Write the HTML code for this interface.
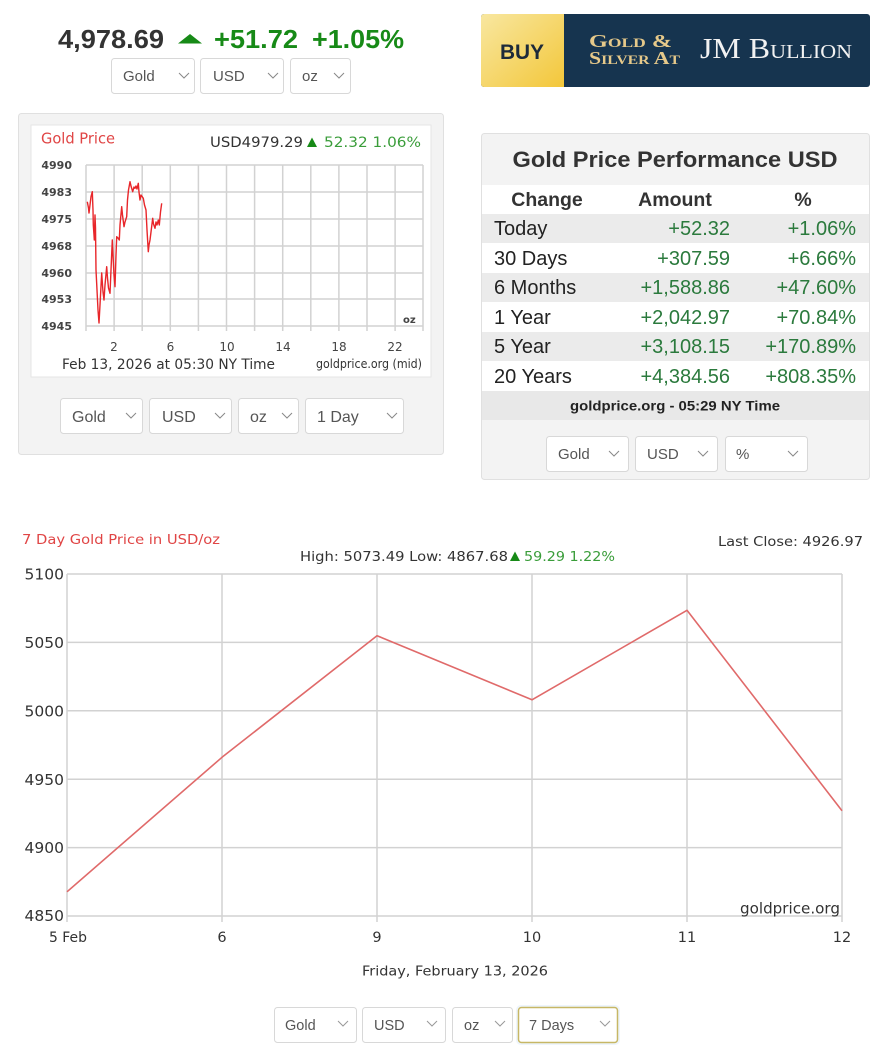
<!DOCTYPE html>
<html><head><meta charset="utf-8"><style>
html,body{margin:0;padding:0;background:#fff;}
svg{display:block;}
.os{font-family:"Liberation Sans","DejaVu Sans",sans-serif;}
.dv{font-family:"DejaVu Sans","Liberation Sans",sans-serif;}
.sf{font-family:"Liberation Serif","DejaVu Serif",serif;}
</style></head><body>
<svg width="896" height="1062" viewBox="0 0 896 1062" xmlns="http://www.w3.org/2000/svg">
<defs>
<linearGradient id="yg" x1="0" y1="0" x2="1" y2="1">
<stop offset="0" stop-color="#f8e7a0"/><stop offset="1" stop-color="#f3c73a"/>
</linearGradient>
</defs>
<rect width="896" height="1062" fill="#fff"/>

<!-- Top price header -->
<text class="os" x="58" y="48" font-size="26" font-weight="bold" fill="#333" textLength="106" lengthAdjust="spacingAndGlyphs">4,978.69</text>
<polygon points="178,43.5 202,43.5 190,34" fill="#178a17"/>
<text class="os" x="214" y="48" font-size="26" font-weight="bold" fill="#178a17" textLength="84" lengthAdjust="spacingAndGlyphs">+51.72</text>
<text class="os" x="312" y="48" font-size="26" font-weight="bold" fill="#178a17" textLength="92" lengthAdjust="spacingAndGlyphs">+1.05%</text>

<!-- dropdowns row 1 -->
<g class="os" font-size="15" fill="#555">
<rect x="111.5" y="58.5" width="83" height="35" rx="3" fill="#fff" stroke="#d8d8d8"/>
<text x="123" y="81">Gold</text>
<polyline points="179,73 184,78 189,73" fill="none" stroke="#888"/>
<rect x="200.5" y="58.5" width="83" height="35" rx="3" fill="#fff" stroke="#d8d8d8"/>
<text x="213" y="81">USD</text>
<polyline points="268,73 273,78 278,73" fill="none" stroke="#888"/>
<rect x="290.5" y="58.5" width="60" height="35" rx="3" fill="#fff" stroke="#d8d8d8"/>
<text x="302" y="81">oz</text>
<polyline points="334,73 339,78 344,73" fill="none" stroke="#888"/>
</g>

<!-- Banner -->
<rect x="481" y="14" width="389" height="73" rx="3" fill="#16344f"/>
<path d="M484,14 H564 V87 H484 A3,3 0 0 1 481,84 V17 A3,3 0 0 1 484,14 Z" fill="url(#yg)"/>
<text class="os" x="500" y="59" font-size="21" font-weight="bold" fill="#1d2a3a" textLength="44" lengthAdjust="spacingAndGlyphs">BUY</text>
<text class="sf" x="589" y="47" font-size="18" font-weight="bold" fill="#e6c98a" style="font-variant:small-caps" textLength="83" lengthAdjust="spacingAndGlyphs">Gold &amp;</text>
<text class="sf" x="589" y="64" font-size="18" font-weight="bold" fill="#e6c98a" style="font-variant:small-caps" textLength="91" lengthAdjust="spacingAndGlyphs">Silver At</text>
<text class="sf" x="700" y="58" font-size="29" fill="#f2f2f2" style="font-variant:small-caps" textLength="152" lengthAdjust="spacingAndGlyphs">JM Bullion</text>

<!-- Left panel -->
<rect x="18.5" y="113.5" width="425" height="341" rx="3" fill="#f3f3f3" stroke="#e0e0e0"/>
<rect x="31" y="125" width="400" height="252" fill="#fff" stroke="#e6e6e6"/>
<text class="dv" x="41" y="143.5" font-size="15" fill="#e04545" textLength="74" lengthAdjust="spacingAndGlyphs">Gold Price</text>
<text class="dv" x="210" y="147" font-size="14" fill="#333" textLength="93" lengthAdjust="spacingAndGlyphs">USD4979.29</text>
<polygon points="307,147 317,147 312,137.5" fill="#178a17"/>
<text class="dv" x="324" y="147" font-size="14" fill="#3a9d3a" textLength="97" lengthAdjust="spacingAndGlyphs">52.32 1.06%</text>

<g stroke="#d2d2d2" stroke-width="1.5" fill="none">
<line x1="86" y1="165" x2="423" y2="165"/>
<line x1="86" y1="192" x2="423" y2="192"/>
<line x1="86" y1="219" x2="423" y2="219"/>
<line x1="86" y1="246" x2="423" y2="246"/>
<line x1="86" y1="273" x2="423" y2="273"/>
<line x1="86" y1="299" x2="423" y2="299"/>
<line x1="86" y1="326" x2="423" y2="326"/>
<line x1="86" y1="165" x2="86" y2="331"/>
<line x1="114.1" y1="165" x2="114.1" y2="331"/>
<line x1="142.2" y1="165" x2="142.2" y2="331"/>
<line x1="170.3" y1="165" x2="170.3" y2="331"/>
<line x1="198.4" y1="165" x2="198.4" y2="331"/>
<line x1="226.5" y1="165" x2="226.5" y2="331"/>
<line x1="254.6" y1="165" x2="254.6" y2="331"/>
<line x1="282.7" y1="165" x2="282.7" y2="331"/>
<line x1="310.8" y1="165" x2="310.8" y2="331"/>
<line x1="338.9" y1="165" x2="338.9" y2="331"/>
<line x1="367" y1="165" x2="367" y2="331"/>
<line x1="395.1" y1="165" x2="395.1" y2="331"/>
<line x1="423" y1="165" x2="423" y2="331"/>
</g>
<g class="dv" font-size="11" font-weight="bold" fill="#444" text-anchor="end">
<text x="72" y="169">4990</text>
<text x="72" y="196">4983</text>
<text x="72" y="223">4975</text>
<text x="72" y="250">4968</text>
<text x="72" y="277">4960</text>
<text x="72" y="303">4953</text>
<text x="72" y="330">4945</text>
</g>
<text class="dv" x="403" y="323" font-size="10" font-weight="bold" fill="#444">oz</text>
<g class="dv" font-size="12" fill="#444" text-anchor="middle">
<text x="114" y="351">2</text>
<text x="170.5" y="351">6</text>
<text x="227" y="351">10</text>
<text x="283" y="351">14</text>
<text x="339" y="351">18</text>
<text x="395" y="351">22</text>
</g>
<text class="dv" x="62" y="369" font-size="14" fill="#333" textLength="213" lengthAdjust="spacingAndGlyphs">Feb 13, 2026 at 05:30 NY Time</text>
<text class="dv" x="316" y="368" font-size="12" fill="#333" textLength="106" lengthAdjust="spacingAndGlyphs">goldprice.org (mid)</text>
<polyline fill="none" stroke="#e8262a" stroke-width="1.4" stroke-linejoin="round" points="87.3,201.7 88.5,208 89,213 90,205 91,196.7 92.3,191.7 93,210 93.3,225 94,235 94.3,240 95,215 95.5,228 96,270 97,290 98,310 99,323 100,305 101.7,273 102.5,285 103,292 104,300 105,285 106.7,266.7 107.5,278 108.5,288 110,293.3 111,270 112.3,240 113,255 114,275 115,286.7 116,255 116.7,236.7 118,238 119.3,240 120,225 121.7,206.7 122.5,215 124,226.7 125,222 126.7,216.7 127.5,200 128.5,190 130,181.7 131,186 132.7,191.7 134,187 135,188.3 136,186 137,189 138.3,183.3 139,192 140,200 141,195 143.3,198.3 144.5,205 146,210 147,230 148.3,251.7 149,245 150,240 151,232 152.7,218.3 153.5,224 155,228.3 156,222 157,225 158.3,220 159.3,225 160.5,212 161.7,203.3"/>

<g class="os" font-size="16" fill="#555">
<rect x="60.5" y="398.5" width="82" height="35" rx="3" fill="#fff" stroke="#d8d8d8"/>
<text x="72" y="422">Gold</text>
<polyline points="126,413 131,418 136,413" fill="none" stroke="#888"/>
<rect x="149.5" y="398.5" width="82" height="35" rx="3" fill="#fff" stroke="#d8d8d8"/>
<text x="162" y="422">USD</text>
<polyline points="215,413 220,418 225,413" fill="none" stroke="#888"/>
<rect x="238.5" y="398.5" width="60" height="35" rx="3" fill="#fff" stroke="#d8d8d8"/>
<text x="250" y="422">oz</text>
<polyline points="282,413 287,418 292,413" fill="none" stroke="#888"/>
<rect x="305.5" y="398.5" width="98" height="35" rx="3" fill="#fff" stroke="#d8d8d8"/>
<text x="317" y="422">1 Day</text>
<polyline points="387,413 392,418 397,413" fill="none" stroke="#888"/>
</g>

<!-- Right panel -->
<rect x="481.5" y="133.5" width="388" height="346" rx="3" fill="#f3f3f3" stroke="#e0e0e0"/>
<text class="os" x="675" y="167" font-size="22" font-weight="bold" fill="#333" text-anchor="middle" textLength="325" lengthAdjust="spacingAndGlyphs">Gold Price Performance USD</text>
<rect x="482" y="185" width="387" height="29" fill="#fff"/>
<rect x="482" y="214" width="387" height="29" fill="#ebebeb"/>
<rect x="482" y="243" width="387" height="30" fill="#fff"/>
<rect x="482" y="273" width="387" height="29" fill="#ebebeb"/>
<rect x="482" y="302" width="387" height="30" fill="#fff"/>
<rect x="482" y="332" width="387" height="29" fill="#ebebeb"/>
<rect x="482" y="361" width="387" height="30" fill="#fff"/>
<rect x="482" y="391" width="387" height="29" fill="#e8e8e8"/>
<g class="os" font-size="19.5" font-weight="bold" fill="#333" text-anchor="middle">
<text x="547" y="206">Change</text>
<text x="675" y="206">Amount</text>
<text x="803" y="206">%</text>
</g>
<g class="os" font-size="20" fill="#222">
<text x="494" y="235">Today</text>
<text x="494" y="265">30 Days</text>
<text x="494" y="294">6 Months</text>
<text x="494" y="324">1 Year</text>
<text x="494" y="353">5 Year</text>
<text x="494" y="383">20 Years</text>
</g>
<g class="os" font-size="20" fill="#2b7a3d" text-anchor="end">
<text x="730" y="235">+52.32</text>
<text x="730" y="265">+307.59</text>
<text x="730" y="294">+1,588.86</text>
<text x="730" y="324">+2,042.97</text>
<text x="730" y="353">+3,108.15</text>
<text x="730" y="383">+4,384.56</text>
<text x="856" y="235">+1.06%</text>
<text x="856" y="265">+6.66%</text>
<text x="856" y="294">+47.60%</text>
<text x="856" y="324">+70.84%</text>
<text x="856" y="353">+170.89%</text>
<text x="856" y="383">+808.35%</text>
</g>
<text class="os" x="675" y="410.5" font-size="14" font-weight="bold" fill="#222" text-anchor="middle" textLength="210" lengthAdjust="spacingAndGlyphs">goldprice.org - 05:29 NY Time</text>
<g class="os" font-size="15" fill="#555">
<rect x="546.5" y="436.5" width="82" height="35" rx="3" fill="#fff" stroke="#d8d8d8"/>
<text x="558" y="459">Gold</text>
<polyline points="609,451 614,456 619,451" fill="none" stroke="#888"/>
<rect x="635.5" y="436.5" width="82" height="35" rx="3" fill="#fff" stroke="#d8d8d8"/>
<text x="647" y="459">USD</text>
<polyline points="698,451 703,456 708,451" fill="none" stroke="#888"/>
<rect x="725.5" y="436.5" width="82" height="35" rx="3" fill="#fff" stroke="#d8d8d8"/>
<text x="736" y="459">%</text>
<polyline points="788,451 793,456 798,451" fill="none" stroke="#888"/>
</g>

<!-- Bottom 7 day chart -->
<text class="dv" x="22" y="544" font-size="13.5" fill="#e04545" textLength="198" lengthAdjust="spacingAndGlyphs">7 Day Gold Price in USD/oz</text>
<text class="dv" x="718" y="546" font-size="13.5" fill="#333" textLength="145" lengthAdjust="spacingAndGlyphs">Last Close: 4926.97</text>
<text class="dv" x="300" y="561" font-size="13" fill="#333" textLength="208" lengthAdjust="spacingAndGlyphs">High: 5073.49 Low: 4867.68</text>
<polygon points="510,561 520,561 515,551.5" fill="#178a17"/>
<text class="dv" x="524" y="561" font-size="13" fill="#3a9d3a" textLength="91" lengthAdjust="spacingAndGlyphs">59.29 1.22%</text>

<g stroke="#d2d2d2" stroke-width="1.5" fill="none">
<line x1="67" y1="574" x2="842" y2="574"/>
<line x1="67" y1="642.4" x2="842" y2="642.4"/>
<line x1="67" y1="710.8" x2="842" y2="710.8"/>
<line x1="67" y1="779.2" x2="842" y2="779.2"/>
<line x1="67" y1="847.6" x2="842" y2="847.6"/>
<line x1="67" y1="916" x2="842" y2="916"/>
<line x1="67" y1="574" x2="67" y2="922"/>
<line x1="222" y1="574" x2="222" y2="922"/>
<line x1="377" y1="574" x2="377" y2="922"/>
<line x1="532" y1="574" x2="532" y2="922"/>
<line x1="687" y1="574" x2="687" y2="922"/>
<line x1="842" y1="574" x2="842" y2="922"/>
</g>
<g class="dv" font-size="15.5" fill="#333" text-anchor="end">
<text x="64" y="579.5">5100</text>
<text x="64" y="648">5050</text>
<text x="64" y="716.5">5000</text>
<text x="64" y="785">4950</text>
<text x="64" y="853">4900</text>
<text x="64" y="921">4850</text>
</g>
<g class="dv" font-size="14.5" fill="#333" text-anchor="middle">
<text x="68" y="942" textLength="38" lengthAdjust="spacingAndGlyphs">5 Feb</text>
<text x="222" y="942">6</text>
<text x="377" y="942">9</text>
<text x="532" y="942">10</text>
<text x="687" y="942">11</text>
<text x="842" y="942">12</text>
</g>
<text class="dv" x="740" y="913.5" font-size="15" fill="#333" textLength="100" lengthAdjust="spacingAndGlyphs">goldprice.org</text>
<polyline fill="none" stroke="#e06a6a" stroke-width="1.6" stroke-linejoin="round" points="67,891.8 222,757.3 377,635.7 532,699.8 687,610.3 842,810.7"/>

<text class="dv" x="362" y="975.5" font-size="13.5" fill="#333" textLength="186" lengthAdjust="spacingAndGlyphs">Friday, February 13, 2026</text>

<g class="os" font-size="14.5" fill="#555">
<rect x="274.5" y="1007.5" width="82" height="35" rx="3" fill="#fff" stroke="#d8d8d8"/>
<text x="285" y="1030">Gold</text>
<polyline points="338,1021 343,1026 348,1021" fill="none" stroke="#999"/>
<rect x="362.5" y="1007.5" width="83" height="35" rx="3" fill="#fff" stroke="#d8d8d8"/>
<text x="374" y="1030">USD</text>
<polyline points="427,1021 432,1026 437,1021" fill="none" stroke="#999"/>
<rect x="452.5" y="1007.5" width="60" height="35" rx="3" fill="#fff" stroke="#d8d8d8"/>
<text x="464" y="1030">oz</text>
<polyline points="495,1021 500,1026 505,1021" fill="none" stroke="#999"/>
<rect x="516" y="1005" width="104" height="40" rx="5" fill="#eef5fc"/>
<rect x="518.5" y="1007.5" width="99" height="35" rx="3" fill="#fff" stroke="#c7b766" stroke-width="1.5"/>
<text x="529" y="1030">7 Days</text>
<polyline points="600,1021 605,1026 610,1021" fill="none" stroke="#999"/>
</g>
</svg>
</body></html>
